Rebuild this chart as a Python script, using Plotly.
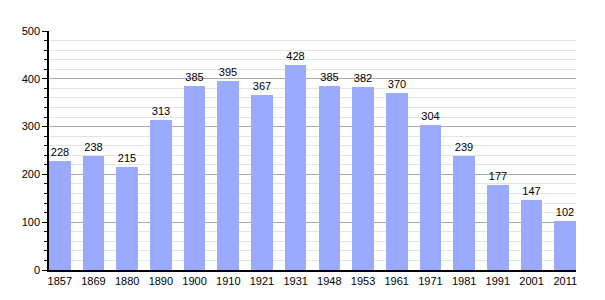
import plotly.graph_objects as go

years = ["1857", "1869", "1880", "1890", "1900", "1910", "1921", "1931",
         "1948", "1953", "1961", "1971", "1981", "1991", "2001", "2011"]
population = [228, 238, 215, 313, 385, 395, 367, 428,
              385, 382, 370, 304, 239, 177, 147, 102]

bar_width = 0.64
fig = go.Figure(go.Bar(
    x=list(range(len(years))), y=population,
    width=bar_width,
    marker=dict(color="#99AAFF", line=dict(width=0)),
    text=[str(v) for v in population], textposition="outside",
    textfont=dict(color="black", size=11), cliponaxis=False,
))
fig.update_layout(
    width=605, height=300,
    margin=dict(l=49, r=29, t=31, b=30),
    plot_bgcolor="white", paper_bgcolor="white",
    font=dict(family="Liberation Sans, Arial, sans-serif", size=11, color="black"),
    showlegend=False, bargap=0,
)
fig.update_xaxes(
    tickmode="array", tickvals=list(range(len(years))), ticktext=years,
    range=[-bar_width / 2, len(years) - 1 + bar_width / 2],
    showline=True, linecolor="black", linewidth=1.5, ticks="",
    showgrid=False, zeroline=False, fixedrange=True,
)
fig.update_yaxes(
    range=[0, 500], dtick=100, tick0=0,
    showline=True, linecolor="black", linewidth=1.5,
    ticks="outside", ticklen=5, tickcolor="black",
    showgrid=True, gridcolor="#AAAAAA", gridwidth=1,
    zeroline=False,
    minor=dict(dtick=20, ticks="outside", ticklen=3, tickcolor="black",
               showgrid=True, gridcolor="#E4E4E4", gridwidth=1),
)
fig.write_html("out.html")
